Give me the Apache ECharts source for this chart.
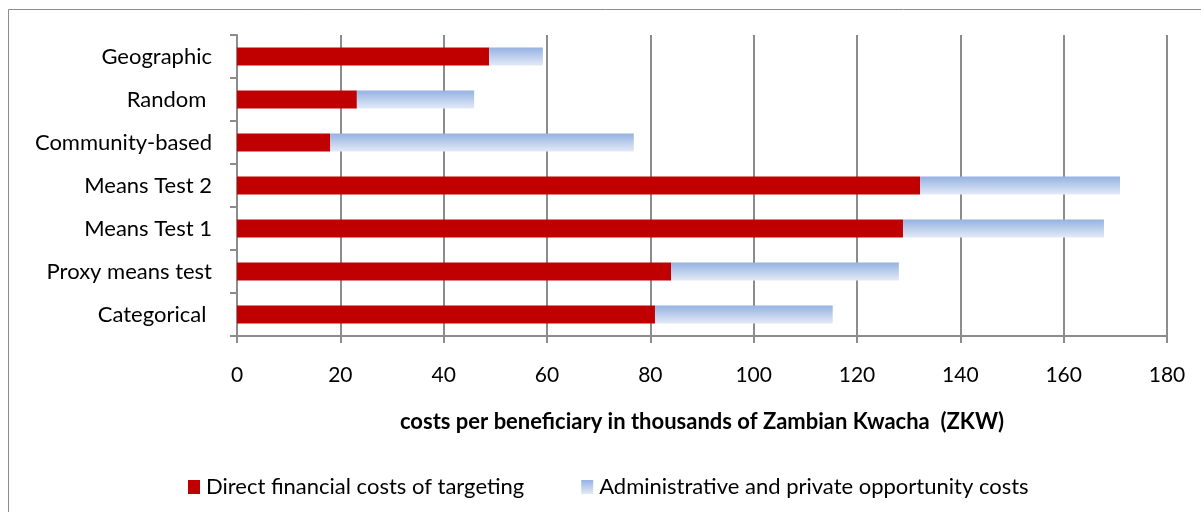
<!DOCTYPE html>
<html><head><meta charset="utf-8">
<script src="https://cdn.jsdelivr.net/npm/echarts@6/dist/echarts.min.js"></script>
<style>html,body{margin:0;padding:0;background:#fff}#c{width:1201px;height:512px}</style>
</head><body><div id="c"></div>
<script>
const categories = ['Categorical ', 'Proxy means test', 'Means Test 1', 'Means Test 2', 'Community-based', 'Random ', 'Geographic'];
const directCosts = [80.9, 84.0, 128.9, 132.2, 18.0, 23.2, 48.8];
const adminCosts = [34.4, 44.1, 38.9, 38.7, 58.8, 22.7, 10.4];
const xTicks = [0, 20, 40, 60, 80, 100, 120, 140, 160, 180];
const seriesNames = ['Direct financial costs of targeting', 'Administrative and private opportunity costs'];
const xTitle = 'costs per beneficiary in thousands of Zambian Kwacha  (ZKW)';

const font = 'Lato, "Open Sans", sans-serif';
const blueGrad = new echarts.graphic.LinearGradient(0, 0, 0, 1, [
  {offset: 0, color: '#94b2e2'}, {offset: 1, color: '#e3eaf7'}]);
const chart = echarts.init(document.getElementById('c'), null, {renderer: 'canvas'});
chart.setOption({
  animation: false,
  backgroundColor: '#fff',
  graphic: [{type: 'rect', shape: {x: 8.5, y: 9.5, width: 1300, height: 600},
    style: {fill: 'none', stroke: '#8c8c8c', lineWidth: 1}, silent: true, z: -10}],
  grid: {left: 237, right: 34, top: 35, bottom: 176},
  xAxis: {
    type: 'value', min: xTicks[0], max: xTicks[xTicks.length - 1], interval: 20,
    axisLine: {show: true, lineStyle: {color: '#8c8c8c', width: 2}},
    axisTick: {show: true, length: 7, lineStyle: {color: '#8c8c8c', width: 2}},
    splitLine: {show: true, lineStyle: {color: '#8c8c8c', width: 2}},
    axisLabel: {color: '#000', fontSize: 21, fontFamily: font, margin: 29},
    name: xTitle, nameLocation: 'middle', nameGap: 75,
    nameTextStyle: {color: '#000', fontSize: 22, fontWeight: 'bold', fontFamily: font}
  },
  yAxis: {
    type: 'category', data: categories,
    axisLine: {show: true, lineStyle: {color: '#8c8c8c', width: 2}},
    axisTick: {show: true, length: 7, lineStyle: {color: '#8c8c8c', width: 2}},
    axisLabel: {color: '#000', fontSize: 22, fontFamily: font, margin: 25}
  },
  legend: {
    left: 183, top: 471, itemWidth: 12, itemHeight: 14, itemGap: 57, icon: 'rect',
    textStyle: {color: '#000', fontSize: 22, fontFamily: font, padding: [0, 0, 0, 1]},
    data: seriesNames
  },
  series: [
    {name: seriesNames[0], type: 'bar', stack: 's', data: directCosts, barWidth: 18,
     itemStyle: {color: '#c00000'}},
    {name: seriesNames[1], type: 'bar', stack: 's', data: adminCosts, barWidth: 18,
     itemStyle: {color: blueGrad}}
  ]
});
</script></body></html>
